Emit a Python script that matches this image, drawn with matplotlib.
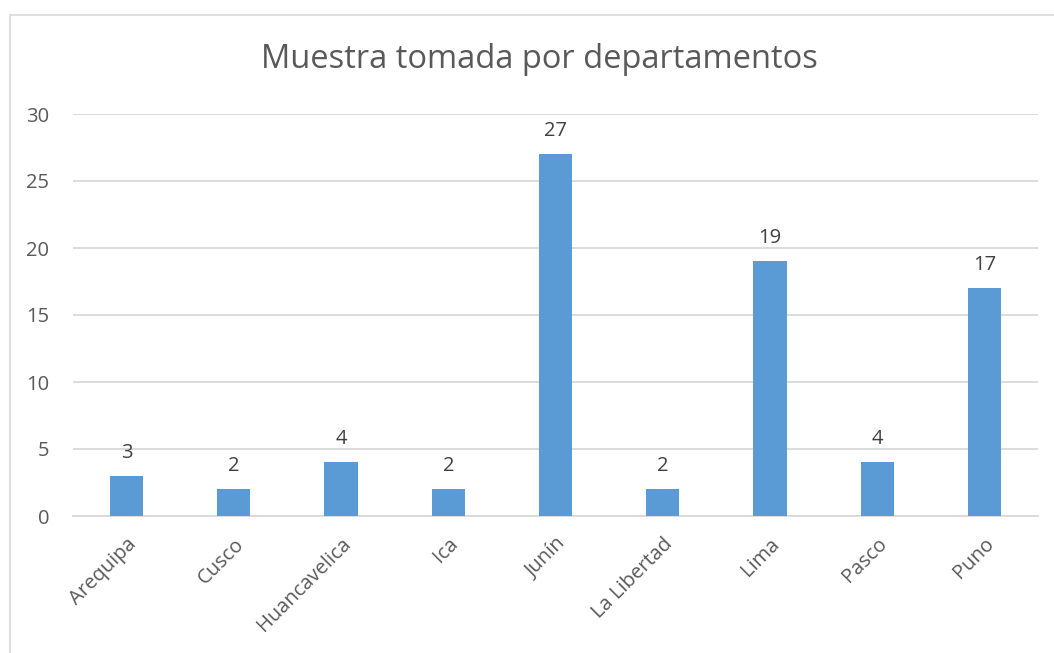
import matplotlib
matplotlib.use("Agg")
import matplotlib.pyplot as plt
from matplotlib.lines import Line2D

departamentos = ["Arequipa", "Cusco", "Huancavelica", "Ica", "Junín",
                 "La Libertad", "Lima", "Pasco", "Puno"]
muestra = [3, 2, 4, 2, 27, 2, 19, 4, 17]
yticks = [0, 5, 10, 15, 20, 25, 30]

plt.rcParams['font.family'] = ['Open Sans', 'DejaVu Sans']

W, H = 1054, 653
fig = plt.figure(figsize=(W / 100, H / 100), dpi=100)
ax = fig.add_axes([73 / W, 1 - 516 / H, (1038 - 73) / W, (516 - 114) / H])

x = range(len(departamentos))
bars = ax.bar(x, muestra, width=0.31, color="#5b9bd5", zorder=3)
for b, v in zip(bars, muestra):
    ax.annotate(str(v), (b.get_x() + b.get_width() / 2, v), xytext=(0, 9.5),
                textcoords="offset points", ha="center", va="bottom",
                fontsize=14.5, color="#404040")

ax.set_xlim(-0.5, len(departamentos) - 0.5)
ax.set_ylim(0, 30)
ax.set_yticks(yticks)
ax.yaxis.grid(True, color="#d9d9d9", linewidth=1.3, zorder=0)
ax.set_xticks(list(x))
ax.set_xticklabels(departamentos, rotation=45, ha="right", rotation_mode="anchor")
ax.tick_params(axis="both", length=0, labelsize=14.5, labelcolor="#595959")
ax.tick_params(axis="y", pad=17)
ax.tick_params(axis="x", pad=13)
for s in ["top", "right", "left"]:
    ax.spines[s].set_visible(False)
ax.spines["bottom"].set_color("#d9d9d9")
ax.spines["bottom"].set_linewidth(1.3)

fig.text(0.5 * (262 + 817) / W, 1 - 60 / H, "Muestra tomada por departamentos",
         ha="center", va="center", fontsize=23.5, color="#595959")

# chart area border (only left and top edges visible)
bx, by = 9.5 / W, 1 - 14.5 / H
fig.add_artist(Line2D([bx, bx, 1], [0, by, by], transform=fig.transFigure,
                      color="#d9d9d9", linewidth=1.2))

fig.savefig("out.png", dpi=100)
